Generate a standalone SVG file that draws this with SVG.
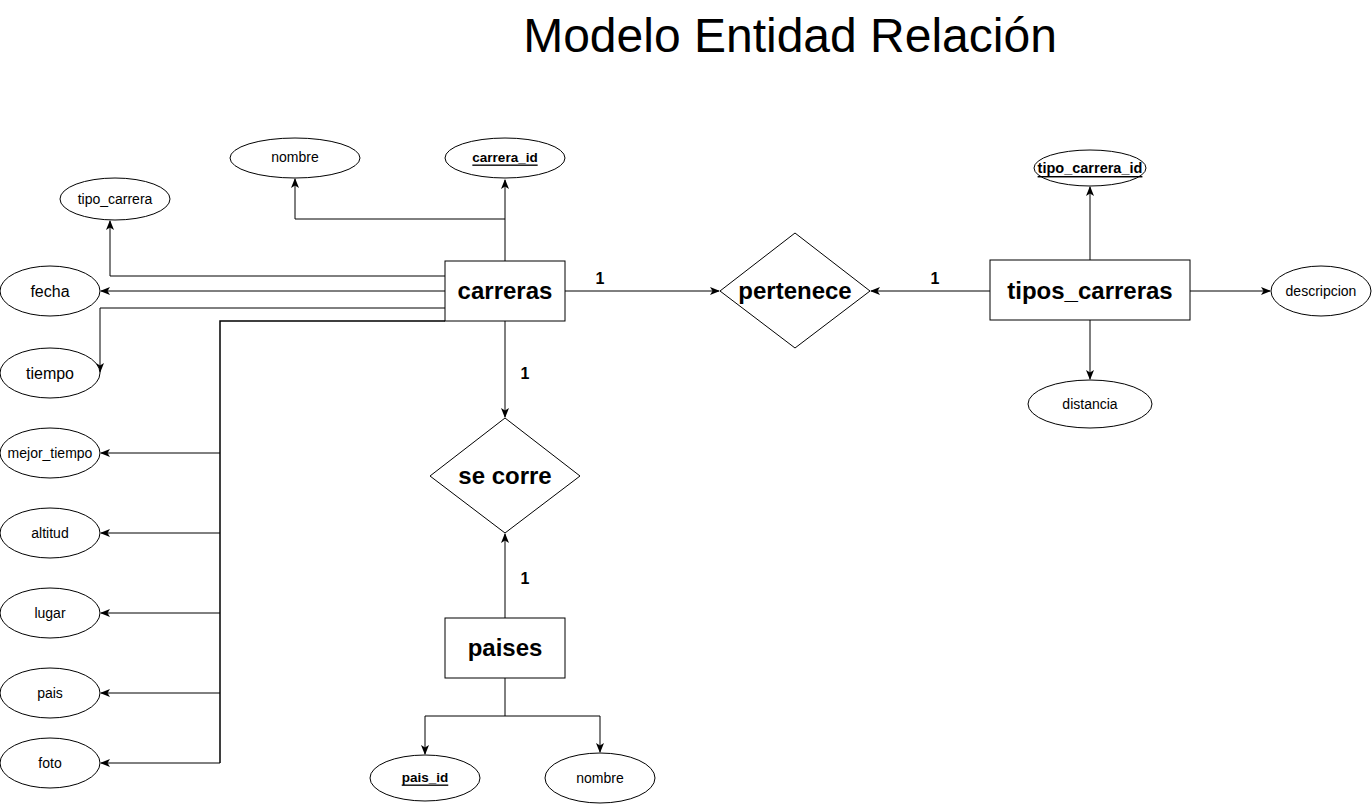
<svg xmlns="http://www.w3.org/2000/svg" width="1372" height="804" viewBox="0 0 1372 804">
  <style>
    text { font-family: "Liberation Sans", Arial, sans-serif; fill: #000; }
    .title { font-size: 48px; text-anchor: middle; }
    .ent rect { fill: #fff; stroke: #000; stroke-width: 1; }
    .ent text { font-size: 24px; font-weight: bold; text-anchor: middle; dominant-baseline: central; }
    .rel polygon { fill: #fff; stroke: #000; stroke-width: 1; }
    .rel text { font-size: 24px; font-weight: bold; text-anchor: middle; dominant-baseline: central; }
    .attr ellipse { fill: #fff; stroke: #000; stroke-width: 1; }
    .attr text { font-size: 14px; text-anchor: middle; dominant-baseline: central; }
    .attr text.big { font-size: 16px; }
    .attr text.key { font-size: 13.5px; font-weight: bold; text-decoration: underline; }
    .edge { fill: none; stroke: #000; stroke-width: 1; }
    .card { font-size: 16px; font-weight: bold; text-anchor: middle; dominant-baseline: central; }
  </style>
  <defs>
    <marker id="arrow" viewBox="0 0 10 8" refX="9" refY="4" markerWidth="10" markerHeight="8" markerUnits="userSpaceOnUse" orient="auto">
      <path d="M0,0 L10,4 L0,8 L2.5,4 Z" fill="#000"/>
    </marker>
  </defs>

  <text class="title" x="790" y="52">Modelo Entidad Relación</text>

  <!-- connectors -->
  <g id="connectors">
    <!-- carreras attributes -->
    <path class="edge" d="M505,261 L505,180" marker-end="url(#arrow)"/>
    <path class="edge" d="M505,219 L295,219 L295,179" marker-end="url(#arrow)"/>
    <path class="edge" d="M445,276 L110,276 L110,221" marker-end="url(#arrow)"/>
    <path class="edge" d="M445,291 L101,291" marker-end="url(#arrow)"/>
    <path class="edge" d="M445,308 L100,308 L100,372" marker-end="url(#arrow)"/>
    <path class="edge" d="M445,321 L220,321 L220,763" style="stroke-width:1.5"/>
    <path class="edge" d="M220,453 L101,453" marker-end="url(#arrow)"/>
    <path class="edge" d="M220,533 L101,533" marker-end="url(#arrow)"/>
    <path class="edge" d="M220,613 L101,613" marker-end="url(#arrow)"/>
    <path class="edge" d="M220,693 L101,693" marker-end="url(#arrow)"/>
    <path class="edge" d="M220,763 L101,763" marker-end="url(#arrow)"/>
    <!-- relationships -->
    <path class="edge" d="M565,291 L719,291" marker-end="url(#arrow)"/>
    <path class="edge" d="M990,291 L871,291" marker-end="url(#arrow)"/>
    <path class="edge" d="M505,321 L505,417" marker-end="url(#arrow)"/>
    <path class="edge" d="M505,618 L505,534" marker-end="url(#arrow)"/>
    <!-- tipos_carreras attributes -->
    <path class="edge" d="M1090,260 L1090,187" marker-end="url(#arrow)"/>
    <path class="edge" d="M1190,291 L1270,291" marker-end="url(#arrow)"/>
    <path class="edge" d="M1090,320 L1090,379" marker-end="url(#arrow)"/>
    <!-- paises attributes -->
    <path class="edge" d="M505,678 L505,716 L425,716 L425,754" marker-end="url(#arrow)"/>
    <path class="edge" d="M505,716 L600,716 L600,752" marker-end="url(#arrow)"/>
    <!-- cardinalities -->
    <text class="card" x="600" y="278">1</text>
    <text class="card" x="935" y="278">1</text>
    <text class="card" x="525" y="373">1</text>
    <text class="card" x="525" y="578">1</text>
  </g>

  <!-- entities -->
  <g id="carreras" class="ent">
    <rect x="445" y="261" width="120" height="60"/>
    <text x="505" y="290">carreras</text>
  </g>
  <g id="tipos_carreras" class="ent">
    <rect x="990" y="260" width="200" height="60"/>
    <text x="1090" y="290">tipos_carreras</text>
  </g>
  <g id="paises" class="ent">
    <rect x="445" y="618" width="120" height="60"/>
    <text x="505" y="647">paises</text>
  </g>

  <!-- relationships -->
  <g id="pertenece" class="rel">
    <polygon points="795,233 870,291 795,348 720,291"/>
    <text x="795" y="290">pertenece</text>
  </g>
  <g id="se_corre" class="rel">
    <polygon points="505,418 580,476 505,533 430,476"/>
    <text x="505" y="475">se corre</text>
  </g>

  <!-- attributes of carreras -->
  <g id="attr_carrera_id" class="attr">
    <ellipse cx="505" cy="158" rx="60" ry="20"/>
    <text class="key" x="505" y="157">carrera_id</text>
  </g>
  <g id="attr_nombre" class="attr">
    <ellipse cx="295" cy="158" rx="65" ry="20"/>
    <text x="295" y="157">nombre</text>
  </g>
  <g id="attr_tipo_carrera" class="attr">
    <ellipse cx="115" cy="199" rx="55" ry="21"/>
    <text x="115" y="199">tipo_carrera</text>
  </g>
  <g id="attr_fecha" class="attr">
    <ellipse cx="50" cy="291" rx="50" ry="25"/>
    <text class="big" x="50" y="291">fecha</text>
  </g>
  <g id="attr_tiempo" class="attr">
    <ellipse cx="50" cy="373" rx="50" ry="25"/>
    <text class="big" x="50" y="373">tiempo</text>
  </g>
  <g id="attr_mejor_tiempo" class="attr">
    <ellipse cx="50" cy="453" rx="50" ry="25"/>
    <text x="50" y="453">mejor_tiempo</text>
  </g>
  <g id="attr_altitud" class="attr">
    <ellipse cx="50" cy="533" rx="50" ry="25"/>
    <text x="50" y="533">altitud</text>
  </g>
  <g id="attr_lugar" class="attr">
    <ellipse cx="50" cy="613" rx="50" ry="25"/>
    <text x="50" y="613">lugar</text>
  </g>
  <g id="attr_pais" class="attr">
    <ellipse cx="50" cy="693" rx="50" ry="25"/>
    <text x="50" y="693">pais</text>
  </g>
  <g id="attr_foto" class="attr">
    <ellipse cx="50" cy="763" rx="50" ry="25"/>
    <text x="50" y="763">foto</text>
  </g>

  <!-- attributes of tipos_carreras -->
  <g id="attr_tipo_carrera_id" class="attr">
    <ellipse cx="1090" cy="168" rx="56" ry="18"/>
    <text class="key" x="1090" y="168" style="font-size:14.5px">tipo_carrera_id</text>
  </g>
  <g id="attr_descripcion" class="attr">
    <ellipse cx="1321" cy="291" rx="50" ry="25"/>
    <text x="1321" y="291">descripcion</text>
  </g>
  <g id="attr_distancia" class="attr">
    <ellipse cx="1090" cy="404" rx="62" ry="24"/>
    <text x="1090" y="404">distancia</text>
  </g>

  <!-- attributes of paises -->
  <g id="attr_pais_id" class="attr">
    <ellipse cx="425" cy="778" rx="55" ry="23"/>
    <text class="key" x="425" y="777">pais_id</text>
  </g>
  <g id="attr_nombre_pais" class="attr">
    <ellipse cx="600" cy="778" rx="55" ry="25"/>
    <text x="600" y="778">nombre</text>
  </g>
</svg>
